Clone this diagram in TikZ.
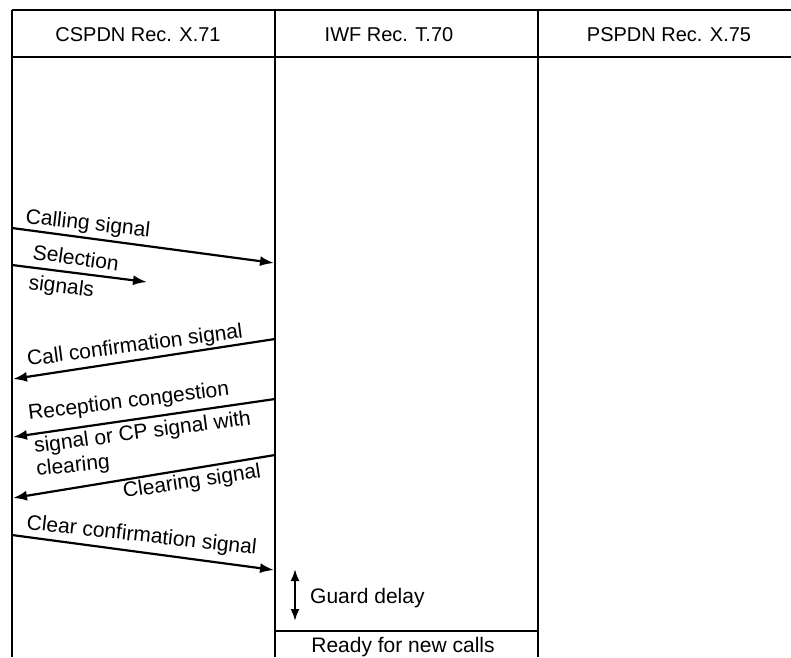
\documentclass[tikz,border=0pt]{standalone}
\usepackage{fontspec}
\setmainfont{Liberation Sans}
\usetikzlibrary{arrows.meta}
\begin{document}
\begin{tikzpicture}[x=1pt,y=-1pt,
  frame/.style={line width=2.6pt},
  sig/.style={line width=2.2pt,-{Latex[length=14pt,width=10pt]}},
  lbl/.style={anchor=base west, inner sep=0pt, font=\fontsize{21}{25}\selectfont},
  hdr/.style={inner sep=0pt, font=\fontsize{20}{24}\selectfont}]
\useasboundingbox (0,0) rectangle (791,657);
% frame coordinates
\coordinate (tl) at (12,10);
\coordinate (tr) at (791,10);
\coordinate (hl) at (12,57);
\coordinate (hr) at (791,57);
\coordinate (aT) at (12,10);   \coordinate (aB) at (12,657);
\coordinate (bT) at (275,10);  \coordinate (bB) at (275,657);
\coordinate (cT) at (538,10);  \coordinate (cB) at (538,657);
\coordinate (rL) at (275,631); \coordinate (rR) at (538,631);
\draw[frame] (tl) -- (tr);
\draw[frame] (hl) -- (hr);
\draw[frame] (aT) -- (aB);
\draw[frame] (bT) -- (bB);
\draw[frame] (cT) -- (cB);
\draw[frame] (rL) -- (rR);
% headers
\node[hdr] (h1) at (138,35) {CSPDN Rec. X.71};
\node[hdr] (h2) at (389,35) {IWF Rec. T.70};
\node[hdr] (h3) at (669,35) {PSPDN Rec. X.75};
% calling signal
\coordinate (s1a) at (12,228);  \coordinate (s1b) at (274,263);
\draw[sig] (s1a) -- (s1b);
\node[lbl, rotate=-6.5] (l1) at (25,223) {Calling signal};
% selection signals
\coordinate (s2a) at (12,265);  \coordinate (s2b) at (147,282);
\draw[sig] (s2a) -- (s2b);
\node[lbl, rotate=-8] (l2a) at (32,259) {Selection};
\node[lbl, rotate=-7] (l2b) at (28,289) {signals};
% call confirmation
\coordinate (s3a) at (275,339); \coordinate (s3b) at (13,379);
\draw[sig] (s3a) -- (s3b);
\node[lbl, rotate=7.5] (l3) at (28,366) {Call confirmation signal};
% reception congestion
\coordinate (s4a) at (275,399); \coordinate (s4b) at (13,437);
\draw[sig] (s4a) -- (s4b);
\node[lbl, rotate=7] (l4a) at (29,420) {Reception congestion};
\node[lbl, rotate=7.5] (l4b) at (35,453) {signal or CP signal with};
\node[lbl, rotate=6] (l4c) at (37,476) {clearing};
% clearing signal
\coordinate (s5a) at (275,455); \coordinate (s5b) at (13,498);
\draw[sig] (s5a) -- (s5b);
\node[lbl, rotate=8.5] (l5) at (124,498) {Clearing signal};
% clear confirmation
\coordinate (s6a) at (12,535);  \coordinate (s6b) at (274,570);
\draw[sig] (s6a) -- (s6b);
\node[lbl, rotate=-6.3] (l6) at (26,529) {Clear confirmation signal};
% guard delay
\coordinate (g1) at (295,569); \coordinate (g2) at (295,621);
\draw[line width=2.2pt,{Latex[length=12pt,width=9pt]}-{Latex[length=12pt,width=9pt]}] (g1) -- (g2);
\node[lbl] (gd) at (310,603) {Guard delay};
% ready
\node[anchor=base, inner sep=0pt, font=\fontsize{21}{25}\selectfont] (rd) at (403,652) {Ready for new calls};
\end{tikzpicture}
\end{document}
